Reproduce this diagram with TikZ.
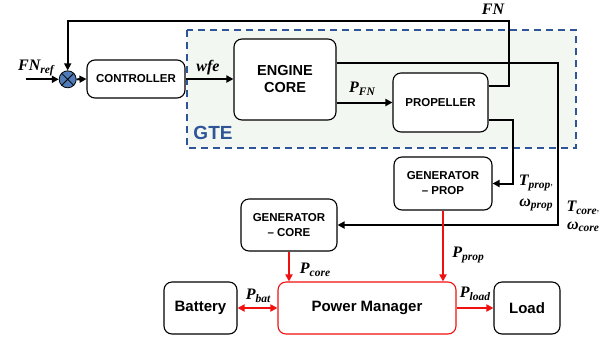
\documentclass[tikz,border=0pt]{standalone}
\usepackage{fontspec}
\setmainfont{Liberation Sans}
\newfontfamily\lblfont{Liberation Serif}
\usetikzlibrary{arrows.meta,calc}
\definecolor{gteblue}{HTML}{2E5597}
\definecolor{gtefill}{HTML}{F3F7F1}
\definecolor{sumblue}{HTML}{4F7BB8}
\definecolor{pwrred}{HTML}{F01010}
\newcommand{\lab}[2]{{\lblfont\bfseries\itshape\fontsize{16}{18}\selectfont #1\raisebox{-0.35ex}{\fontsize{11.5}{12}\selectfont #2}}}
\tikzset{
  blk/.style={draw=black, line width=1.1pt, rounded corners=8pt, fill=white, align=center, font=\bfseries, inner sep=0pt},
  sig/.style={line width=2pt, -{Triangle[length=7pt,width=7pt]}},
  pwr/.style={draw=pwrred, line width=2pt, -{Triangle[length=7pt,width=7pt]}},
  pwr2/.style={draw=pwrred, line width=2pt, {Triangle[length=7pt,width=7pt]}-{Triangle[length=7pt,width=7pt]}},
  lbl/.style={inner sep=0pt},
}
\begin{document}
\begin{tikzpicture}[x=1pt,y=-1pt]
\useasboundingbox (0,0) rectangle (615,341);
% GTE region
\draw[gteblue, line width=1.3pt, dash pattern=on 7pt off 5pt, fill=gtefill] (187,30) rectangle (576,148);
\node[font=\fontsize{19}{20}\selectfont\bfseries, text=gteblue, inner sep=0pt] (gte) at (213,133) {GTE};
% blocks
\node[blk, minimum width=98pt, minimum height=38pt, font=\fontsize{11.5}{13}\selectfont\bfseries] (ctrl) at (136,79) {CONTROLLER};
\node[blk, minimum width=102pt, minimum height=81pt, font=\fontsize{14.5}{17}\selectfont\bfseries] (eng) at (285,79.5) {ENGINE\\CORE};
\node[blk, minimum width=95pt, minimum height=59pt, font=\fontsize{11.5}{13}\selectfont\bfseries] (prop) at (440.5,102.5) {PROPELLER};
\node[blk, minimum width=98pt, minimum height=53pt, font=\fontsize{11.5}{15}\selectfont\bfseries] (genp) at (443,183.5) {GENERATOR\\– PROP};
\node[blk, minimum width=96pt, minimum height=52pt, font=\fontsize{11.5}{15}\selectfont\bfseries] (genc) at (289,225) {GENERATOR\\– CORE};
\node[blk, draw=pwrred, minimum width=178pt, minimum height=52pt, font=\fontsize{15}{17}\selectfont\bfseries] (pm) at (367,308) {Power Manager};
\node[blk, minimum width=73pt, minimum height=52pt, font=\fontsize{15}{17}\selectfont\bfseries] (bat) at (200.5,308) {Battery};
\node[blk, minimum width=66pt, minimum height=52pt, font=\fontsize{15}{17}\selectfont\bfseries] (load) at (527,308) {Load};
% summing junction
\node[circle, draw=black, line width=0.8pt, fill=sumblue, minimum size=17pt, inner sep=0pt] (sum) at (67.7,79.3) {};
\draw[line width=0.8pt] (sum.north west) -- (sum.south east) (sum.north east) -- (sum.south west);
% signal connectors
\coordinate (fnin) at (26,79.3);
\draw[sig] (fnin) -- (sum.west);
\draw[sig] (sum.east) -- (ctrl.west);
\draw[sig] (ctrl.east) -- (ctrl.east -| eng.west);
\draw[sig] (eng.east |- prop.west) -- (prop.west);
\coordinate (fnr) at (509,21);
\draw[sig] ([yshift=16.5pt]prop.east) -| (fnr) -| (sum.north);
\coordinate (cr) at (558,225);
\draw[sig] ([yshift=16.5pt]eng.east) -| (cr) -- (genc.east);
\coordinate (pr) at (513,183.5);
\draw[sig] ([yshift=-17.5pt]prop.east) -| (pr) -- (genp.east);
% power connectors
\draw[pwr] (genc.south) -- (genc.south |- pm.north);
\draw[pwr] (genp.south) -- (genp.south |- pm.north);
\draw[pwr2] (bat.east) -- (pm.west);
\draw[pwr] (pm.east) -- (load.west);
% labels
\node[lbl] (lfnref) at (36,68) {\lab{FN}{ref}};
\node[lbl] (lfn) at (493,11) {\lab{FN}{}};
\node[lbl] (lwfe) at (208,68) {\lab{wfe}{}};
\node[lbl] (lpfn) at (362,89) {\lab{P}{FN}};
\node[lbl] (ltp) at (536,183) {\lab{T}{prop},};
\node[lbl] (lwp) at (536,205) {\lab{ω}{prop}};
\node[lbl] (ltc) at (583,208) {\lab{T}{core},};
\node[lbl] (lwc) at (583,227) {\lab{ω}{core}};
\node[lbl] (lpcore) at (315,270) {\lab{P}{core}};
\node[lbl] (lpprop) at (468,255) {\lab{P}{prop}};
\node[lbl] (lpbat) at (258,296) {\lab{P}{bat}};
\node[lbl] (lpload) at (475,294) {\lab{P}{load}};
\end{tikzpicture}
\end{document}
